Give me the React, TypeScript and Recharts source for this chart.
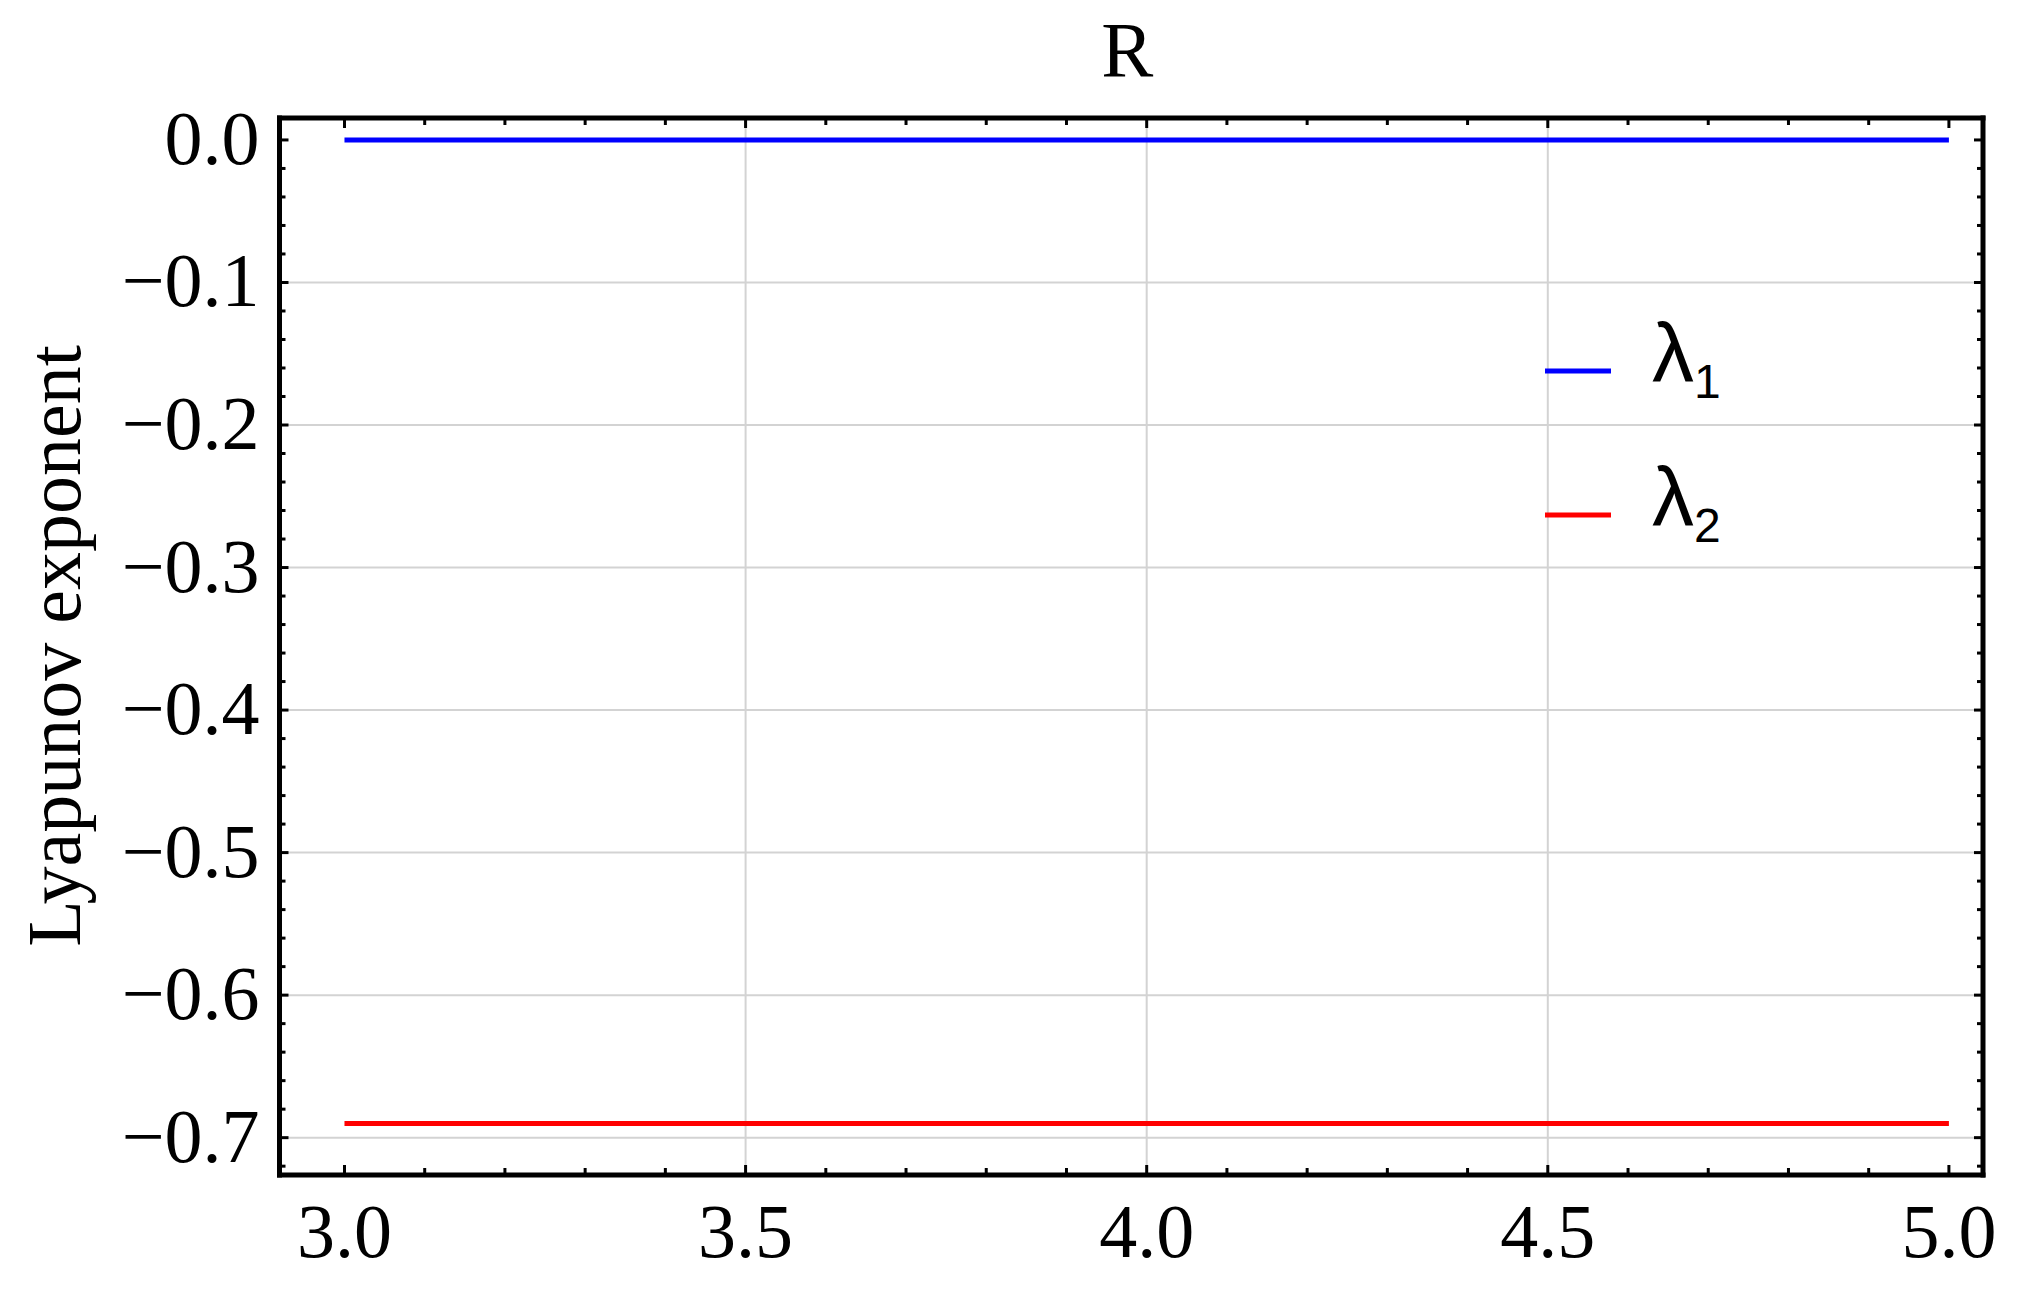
import React from "react";
import { LineChart, Line, XAxis, YAxis, CartesianGrid, Legend } from "recharts";

// R values sampled along the horizontal axis
const rValues = [3.0, 3.5, 4.0, 4.5, 5.0];
const lambda1 = [0, 0, 0, 0, 0];
const lambda2 = [-0.69, -0.69, -0.69, -0.69, -0.69];

const xMajorTicks = [3.0, 3.5, 4.0, 4.5, 5.0];
const xMinorTicks = [
  3.0, 3.1, 3.2, 3.3, 3.4, 3.5, 3.6, 3.7, 3.8, 3.9, 4.0, 4.1, 4.2, 4.3, 4.4,
  4.5, 4.6, 4.7, 4.8, 4.9, 5.0,
];
const yMajorTicks = [0, -0.1, -0.2, -0.3, -0.4, -0.5, -0.6, -0.7];
const yMinorTicks = [
  0, -0.02, -0.04, -0.06, -0.08, -0.1, -0.12, -0.14, -0.16, -0.18, -0.2,
  -0.22, -0.24, -0.26, -0.28, -0.3, -0.32, -0.34, -0.36, -0.38, -0.4, -0.42,
  -0.44, -0.46, -0.48, -0.5, -0.52, -0.54, -0.56, -0.58, -0.6, -0.62, -0.64,
  -0.66, -0.68, -0.7, -0.72,
];
const xGridValues = [3.5, 4.0, 4.5];
const yGridValues = [-0.1, -0.2, -0.3, -0.4, -0.5, -0.6, -0.7];

const xDomain: [number, number] = [2.919, 5.0425];
const yDomain: [number, number] = [-0.7262, 0.0154];

const data = rValues.map((r, i) => ({ r, l1: lambda1[i], l2: lambda2[i] }));

const serif = '"Liberation Serif", "Times New Roman", serif';
const sans = '"Liberation Sans", Arial, sans-serif';

const isMajor = (list: number[], v: number) =>
  list.some((t) => Math.abs(t - v) < 1e-6);

const fmt = (v: number) => (Math.abs(v) < 1e-9 ? "0.0" : v.toFixed(1).replace("-", "\u2212"));

const BottomTick = (props: any) => {
  const { x, y, payload } = props;
  const major = isMajor(xMajorTicks, payload.value);
  return (
    <g>
      <line x1={x} x2={x} y1={y} y2={y - (major ? 10 : 7)} stroke="#000" strokeWidth={3} />
      {major && (
        <text x={x} y={y + 82} textAnchor="middle" fontFamily={serif} fontSize={76} fill="#000">
          {fmt(payload.value)}
        </text>
      )}
    </g>
  );
};

const TopTick = (props: any) => {
  const { x, y, payload } = props;
  const major = isMajor(xMajorTicks, payload.value);
  return <line x1={x} x2={x} y1={y} y2={y + (major ? 10 : 7)} stroke="#000" strokeWidth={3} />;
};

const LeftTick = (props: any) => {
  const { x, y, payload } = props;
  const major = isMajor(yMajorTicks, payload.value);
  return (
    <g>
      <line x1={x} x2={x + (major ? 9 : 6)} y1={y} y2={y} stroke="#000" strokeWidth={3} />
      {major && (
        <text x={x - 20} y={y + 24} textAnchor="end" fontFamily={serif} fontSize={76} fill="#000">
          {fmt(payload.value)}
        </text>
      )}
    </g>
  );
};

const RightTick = (props: any) => {
  const { x, y, payload } = props;
  const major = isMajor(yMajorTicks, payload.value);
  return <line x1={x} x2={x - (major ? 9 : 6)} y1={y} y2={y} stroke="#000" strokeWidth={3} />;
};

const TitleLabel = (props: any) => {
  const { viewBox } = props;
  const cx = viewBox ? viewBox.x + viewBox.width / 2 - 4 : 1127;
  return (
    <text x={cx} y={76} textAnchor="middle" fontFamily={serif} fontSize={78} fill="#000">
      R
    </text>
  );
};

const YLabel = () => (
  <text
    x={80}
    y={646}
    transform="rotate(-90 80 646)"
    textAnchor="middle"
    fontFamily={serif}
    fontSize={76}
    fill="#000"
  >
    Lyapunov exponent
  </text>
);

const LegendContent = (props: any) => {
  const { payload } = props;
  return (
    <svg width={280} height={270}>
      {(payload || []).map((entry: any, i: number) => {
        const cy = 71 + i * 144;
        const name = String(entry.value);
        return (
          <g key={`leg-${i}`}>
            <line x1={15} x2={81} y1={cy} y2={cy} stroke={entry.color} strokeWidth={5} />
            <text x={122} y={cy + 11} fontFamily={sans} fontSize={84} fill="#000">
              {name.charAt(0)}
              <tspan fontSize={48} dy={16}>
                {name.slice(1)}
              </tspan>
            </text>
          </g>
        );
      })}
    </svg>
  );
};

const axisLine = { stroke: "#000", strokeWidth: 5, strokeLinecap: "square" as const };

export default function App() {
  return (
    <div style={{ position: "absolute", left: 0, top: 0, background: "#fff" }}>
      <LineChart
        width={2026}
        height={1293}
        data={data}
        margin={{ top: 117, right: 42, bottom: 117, left: 278.5 }}
      >
        <CartesianGrid
          xAxisId="b"
          yAxisId="l"
          verticalValues={xGridValues}
          horizontalValues={yGridValues}
          stroke="#d3d3d3"
          strokeWidth={2}
        />
        <XAxis
          xAxisId="b"
          dataKey="r"
          type="number"
          orientation="bottom"
          domain={xDomain}
          allowDataOverflow
          ticks={xMinorTicks}
          interval={0}
          height={1}
          tickSize={0}
          tickMargin={0}
          tickLine={false}
          axisLine={axisLine}
          tick={BottomTick}
        />
        <XAxis
          xAxisId="t"
          dataKey="r"
          type="number"
          orientation="top"
          domain={xDomain}
          allowDataOverflow
          ticks={xMinorTicks}
          interval={0}
          height={1}
          tickSize={0}
          tickMargin={0}
          tickLine={false}
          axisLine={axisLine}
          tick={TopTick}
          label={<TitleLabel />}
        />
        <YAxis
          yAxisId="l"
          type="number"
          orientation="left"
          domain={yDomain}
          allowDataOverflow
          ticks={yMinorTicks}
          interval={0}
          width={1}
          tickSize={0}
          tickMargin={0}
          tickLine={false}
          axisLine={axisLine}
          tick={LeftTick}
          label={<YLabel />}
        />
        <YAxis
          yAxisId="r"
          type="number"
          orientation="right"
          domain={yDomain}
          allowDataOverflow
          ticks={yMinorTicks}
          interval={0}
          width={1}
          tickSize={0}
          tickMargin={0}
          tickLine={false}
          axisLine={axisLine}
          tick={RightTick}
        />
        <Line
          xAxisId="b"
          yAxisId="l"
          dataKey="l1"
          name="λ1"
          stroke="#0000ff"
          strokeWidth={5}
          dot={false}
          activeDot={false}
          isAnimationActive={false}
        />
        <Line
          xAxisId="b"
          yAxisId="l"
          dataKey="l2"
          name="λ2"
          stroke="#ff0000"
          strokeWidth={5}
          dot={false}
          activeDot={false}
          isAnimationActive={false}
        />
        <Legend
          layout="horizontal"
          verticalAlign="middle"
          align="center"
          wrapperStyle={{ left: 1530, top: 300, width: 280, height: 270 }}
          content={<LegendContent />}
        />
      </LineChart>
    </div>
  );
}
